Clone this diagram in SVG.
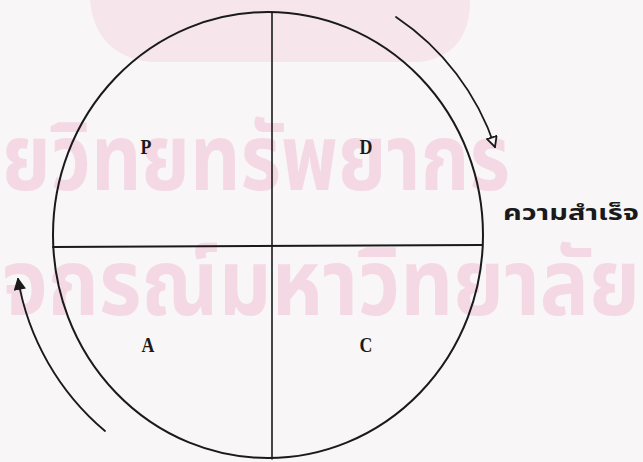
<svg xmlns="http://www.w3.org/2000/svg" width="643" height="462" viewBox="0 0 643 462">
<defs>
<style>
.bg{fill:#f8f6f6}
.wm{fill:#f4d9e5;font-family:"Noto Sans Thai","Noto Sans","DejaVu Sans",sans-serif;font-weight:bold;font-size:92px}
.ln{fill:none;stroke:#1a1a1a;stroke-linecap:round}
.lbl{fill:#1a1a1a;font-family:"Liberation Serif",serif;font-weight:bold;font-size:21px;text-anchor:middle}
.th{fill:#1a1a1a;font-family:"Noto Sans Thai","Noto Sans","DejaVu Sans",sans-serif;font-weight:bold;font-size:21px}
</style>
<marker id="open" viewBox="0 0 12 12" refX="11" refY="6" markerWidth="12" markerHeight="12" markerUnits="userSpaceOnUse" orient="auto">
<path d="M1,1 L11,6 L1,11 Z" fill="#f8f6f6" stroke="#1a1a1a" stroke-width="1.8"/>
</marker>
<marker id="solid" viewBox="0 0 12 12" refX="11" refY="6" markerWidth="12" markerHeight="12" markerUnits="userSpaceOnUse" orient="auto">
<path d="M1,1 L11,6 L1,11 Z" fill="#1a1a1a" stroke="#1a1a1a" stroke-width="1.5"/>
</marker>
</defs>
<rect class="bg" x="0" y="0" width="643" height="462"/>
<g id="watermark">
<path d="M90,0 L470,0 Q470,55 420,62 L150,62 Q95,55 90,0 Z" fill="#f6e6ec"/>
<text class="wm" x="2" y="190" textLength="508" lengthAdjust="spacingAndGlyphs">ยวิทยทรัพยากร</text>
<text class="wm" x="2" y="315" textLength="638" lengthAdjust="spacingAndGlyphs">จกรณ์มหาวิทยาลัย</text>
</g>
<g id="cycle">
<ellipse class="ln" cx="268" cy="235" rx="215" ry="223" stroke-width="2"/>
<line class="ln" x1="272" y1="12" x2="272" y2="459" stroke-width="1.6"/>
<line class="ln" x1="53" y1="247" x2="482" y2="245" stroke-width="2"/>
</g>
<g id="node-P"><text class="lbl" x="146" y="154" transform="translate(146 0) scale(0.85 1) translate(-146 0)">P</text></g>
<g id="node-D"><text class="lbl" x="366" y="154" transform="translate(366 0) scale(0.85 1) translate(-366 0)">D</text></g>
<g id="node-A"><text class="lbl" x="148" y="352" transform="translate(148 0) scale(0.85 1) translate(-148 0)">A</text></g>
<g id="node-C"><text class="lbl" x="366" y="352" transform="translate(366 0) scale(0.85 1) translate(-366 0)">C</text></g>
<g id="label-success"><text class="th" x="503" y="220" textLength="136" lengthAdjust="spacingAndGlyphs">ความสำเร็จ</text></g>
<g id="connectors">
<path class="ln" d="M396,17 A252,252 0 0 1 495,147" stroke-width="1.8" marker-end="url(#open)"/>
<path class="ln" d="M105,431 A255,255 0 0 1 18,279" stroke-width="1.8" marker-end="url(#solid)"/>
</g>
</svg>
